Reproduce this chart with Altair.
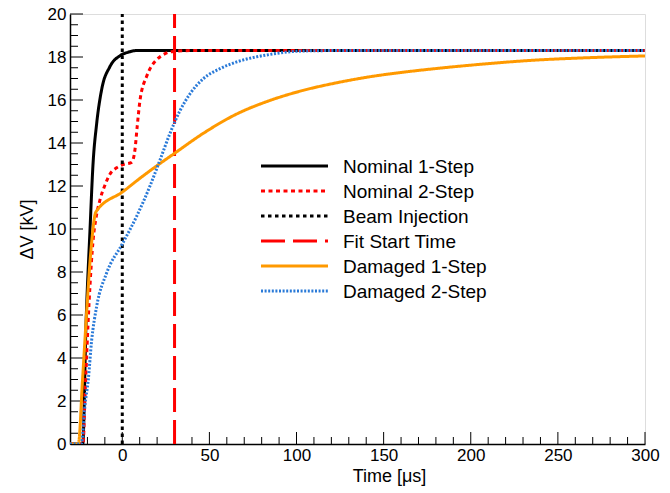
import altair as alt
import pandas as pd

FONT = "Liberation Sans"

names = ["Nominal 1-Step", "Nominal 2-Step", "Beam Injection",
         "Fit Start Time", "Damaged 1-Step", "Damaged 2-Step"]
colors = ["#000000", "#ff0000", "#000000", "#ff0000", "#ff9900", "#2a7ad8"]
dashes = [[1, 0], [4, 3.5], [3.5, 3.5], [24, 8], [1, 0], [2, 1.6]]
widths = [3, 3, 1.8, 3, 3, 2.5]

nom1_t = [-30, -22.7, -20.8, -18.5, -16.8, -14.7, -11.8, -7.1, -1.3, 3.3, 8.4, 15, 300]
nom1_v = [0, 0, 5.6, 10.0, 13.0, 14.9, 16.5, 17.55, 18.06, 18.22, 18.3, 18.3, 18.3]

nom2_t = [-30, -22.5, -21.4, -19.1, -16.6, -15.1, -12.8, -9.9, -7.1, -3.2, 0.6, 5.4,
          7.3, 8.6, 10.2, 14.0, 19.7, 29.3, 40, 300]
nom2_v = [0, 0, 2.2, 6.5, 9.6, 10.5, 11.35, 12.05, 12.55, 12.85, 13.0, 13.1,
          13.7, 14.8, 16.0, 17.1, 17.87, 18.26, 18.3, 18.3]

beam_t = [0, 0]
beam_v = [0, 20]

fit_t = [30, 30]
fit_v = [0, 20]

dam1_t = [-30, -25.2, -22.8, -20.4, -18.1, -15.1, 0.6, 10, 20, 30, 46.5, 65.7, 84.8,
          103.9, 123, 142, 164, 178.5, 207, 236, 265, 300]
dam1_v = [0, 0, 3.0, 6.2, 8.9, 10.8, 11.75, 12.35, 12.95, 13.52, 14.45, 15.35, 15.98,
          16.45, 16.8, 17.08, 17.32, 17.45, 17.67, 17.85, 17.96, 18.05]

dam2_t = [-30, -23.5, -21.4, -19.5, -17.6, -14.7, -9.0, 0, 8.3, 15.9, 21.6, 27.4, 33.1,
          38.9, 46.5, 56.1, 65.7, 84.8, 103.9, 123, 300]
dam2_v = [0, 0, 1.8, 3.0, 4.8, 6.4, 7.95, 9.3, 10.6, 12.0, 13.2, 14.45, 15.5,
          16.29, 16.99, 17.46, 17.77, 18.12, 18.28, 18.3, 18.3]

x_labels = [0, 50, 100, 150, 200, 250, 300]
x_minor = [-20, -10] + [v for v in range(10, 300, 10) if v % 50 != 0]
y_labels = [0, 2, 4, 6, 8, 10, 12, 14, 16, 18, 20]
y_minor = [v / 2 for v in range(1, 40) if v % 4 != 0]

series = [
    (names[0], nom1_t, nom1_v, "monotone"),
    (names[1], nom2_t, nom2_v, "monotone"),
    (names[2], beam_t, beam_v, "linear"),
    (names[3], fit_t, fit_v, "linear"),
    (names[4], dam1_t, dam1_v, "monotone"),
    (names[5], dam2_t, dam2_v, "monotone"),
]

W, H = 575, 430

xscale = alt.Scale(domain=[-30, 300], nice=False, zero=False)
yscale = alt.Scale(domain=[0, 20], nice=False)

xaxis = alt.Axis(values=x_labels, tickSize=0, grid=False, format="d",
                 labelFont=FONT, labelFontSize=17, labelColor="black",
                 labelPadding=3, labelFlush=False,
                 domainColor="black", domainWidth=1.5,
                 title="Time [μs]", titleFont=FONT, titleFontSize=18,
                 titleFontWeight="normal", titleColor="black",
                 titleX=319, titleY=37, titleAlign="center",
                 titleBaseline="alphabetic")
yaxis = alt.Axis(values=y_labels, tickSize=0, grid=False, format="d",
                 labelFont=FONT, labelFontSize=17, labelColor="black",
                 labelPadding=4, labelFlush=False,
                 domainColor="black", domainWidth=1.5,
                 title="ΔV [kV]", titleFont=FONT, titleFontSize=18,
                 titleFontWeight="normal", titleColor="black",
                 titleX=-38, titleY=215, titleAngle=270, titleAlign="center",
                 titleBaseline="alphabetic")

X = alt.X("t:Q", scale=xscale, axis=xaxis)
Y = alt.Y("v:Q", scale=yscale, axis=yaxis)

color_s = alt.Scale(domain=names, range=colors)
dash_s = alt.Scale(domain=names, range=dashes)
width_s = alt.Scale(domain=names, range=widths)

layers = []
for name, ts, vs, interp in series:
    df = pd.DataFrame({"t": ts, "v": vs, "series": name, "i": list(range(len(ts)))})
    layers.append(
        alt.Chart(df).mark_line(interpolate=interp, clip=True).encode(
            x=X, y=Y,
            order="i:Q",
            color=alt.Color("series:N", scale=color_s, legend=None),
            strokeDash=alt.StrokeDash("series:N", scale=dash_s, legend=None),
            strokeWidth=alt.StrokeWidth("series:N", scale=width_s, legend=None),
        )
    )

# inward ticks
xmaj = alt.Chart(pd.DataFrame({"t": x_labels})).mark_rule(color="black", strokeWidth=1).encode(
    x=X, y=alt.value(H), y2=alt.value(H - 12))
xmin = alt.Chart(pd.DataFrame({"t": x_minor})).mark_rule(color="black", strokeWidth=1).encode(
    x=X, y=alt.value(H), y2=alt.value(H - 7))
ymaj = alt.Chart(pd.DataFrame({"v": y_labels})).mark_rule(color="black", strokeWidth=1).encode(
    y=Y, x=alt.value(0), x2=alt.value(13))
ymin = alt.Chart(pd.DataFrame({"v": y_minor})).mark_rule(color="black", strokeWidth=1).encode(
    y=Y, x=alt.value(0), x2=alt.value(8))

main = alt.layer(xmaj, xmin, ymaj, ymin, *layers)

# legend
leg_df = pd.DataFrame({"series": names})
leg_y = alt.Y("series:N", sort=names,
              scale=alt.Scale(type="point", domain=names, range=[152, 277], padding=0),
              axis=None)
leg_lines = alt.Chart(leg_df).mark_rule().encode(
    y=leg_y, x=alt.value(191), x2=alt.value(258),
    color=alt.Color("series:N", scale=color_s, legend=None),
    strokeDash=alt.StrokeDash("series:N", scale=dash_s, legend=None),
    strokeWidth=alt.StrokeWidth("series:N", scale=width_s, legend=None),
)
leg_text = alt.Chart(leg_df).mark_text(align="left", baseline="alphabetic", dy=6.5,
                                       font=FONT, fontSize=19, color="black").encode(
    y=leg_y, x=alt.value(273), text="series:N")
legend = alt.layer(leg_lines, leg_text)

chart = alt.layer(main, legend).resolve_scale(y="independent").properties(
    width=W, height=H,
    autosize=alt.AutoSizeParams(type="none"),
    padding={"left": 70, "top": 14, "right": 25, "bottom": 49},
).configure_view(stroke="black", strokeWidth=1).configure(background="white")

chart.save("out.html", embed_options={"renderer": "svg", "actions": False})
